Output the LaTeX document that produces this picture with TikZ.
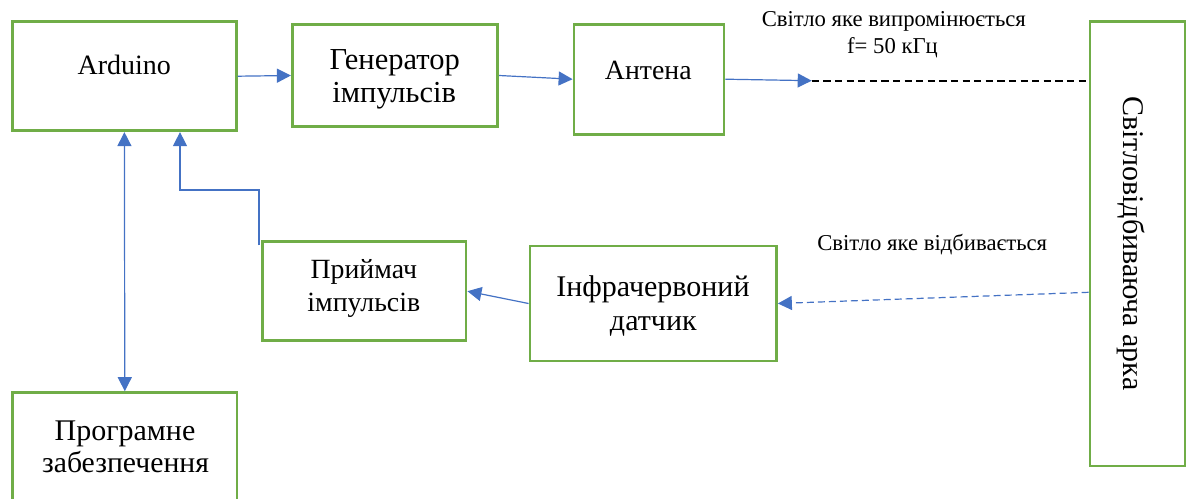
\documentclass[tikz,border=0pt]{standalone}
\usepackage{fontspec}
\setmainfont{Liberation Serif}
\usetikzlibrary{arrows.meta}
\definecolor{boxgreen}{HTML}{70AD47}
\definecolor{arrblue}{HTML}{4472C4}
\begin{document}
\begin{tikzpicture}[x=1pt,y=1pt,
  blk/.style={draw=boxgreen, line width=2.8pt, inner sep=0pt},
  txt/.style={anchor=base, inner sep=0pt, font=\fontsize{#1}{#1}\selectfont},
  arr/.style={draw=arrblue, line width=1.2pt, -{Triangle[length=14pt,width=14pt]}},
  darr/.style={draw=arrblue, line width=1.2pt, {Triangle[length=14pt,width=14pt]}-{Triangle[length=14pt,width=14pt]}}]
\useasboundingbox (0,0) rectangle (1188,-498);
\clip (0,0) rectangle (1188,-498);
% boxes
\node[blk, minimum width=223.5pt, minimum height=109pt] (ard) at (124.4,-76.2) {};
\node[blk, minimum width=205.4pt, minimum height=102.4pt] (gen) at (395,-75.5) {};
\node[blk, minimum width=150pt, minimum height=110pt] (ant) at (649,-79.2) {};
\node[blk, minimum width=95pt, minimum height=444.3pt] (arc) at (1137.5,-243.9) {};
\node[blk, minimum width=203.7pt, minimum height=99pt] (rec) at (364.2,-291.2) {};
\node[blk, minimum width=246.5pt, minimum height=115pt] (ir) at (653.2,-303.5) {};
\node[blk, minimum width=224.3pt, minimum height=160pt, anchor=north] (sw) at (124.8,-391.2) {};
% texts
\node[txt=28] (ardt) at (124.2,-74.3) {Arduino};
\node[txt=30.5] (gent1) at (394.7,-69.3) {Генератор};
\node[txt=30.5] (gent2) at (394.2,-102.7) {імпульсів};
\node[txt=27.8] (antt) at (648.3,-79.3) {Антена};
\node[txt=22.7] (em1) at (893.8,-26.7) {Світло яке випромінюється};
\node[txt=22.7] (em2) at (892.5,-53.3) {f= 50 кГц};
\node[rotate=-90, anchor=base, inner sep=0pt, font=\fontsize{30}{30}\selectfont] (arct) at (1123.3,-243.4) {Світловідбиваюча арка};
\node[txt=22.7] (refl) at (932.2,-250) {Світло яке відбивається};
\node[txt=27.8] (rect1) at (363.8,-278.3) {Приймач};
\node[txt=27.8] (rect2) at (363.8,-311.7) {імпульсів};
\node[txt=30] (irt1) at (653,-296.7) {Інфрачервоний};
\node[txt=30] (irt2) at (653.3,-330) {датчик};
\node[txt=30] (swt1) at (125,-440) {Програмне};
\node[txt=29.7] (swt2) at (125.5,-472.7) {забезпечення};
% connectors
\coordinate (tip) at (811.7,-80.7);
\coordinate (arcin) at (arc.west |- tip);
\coordinate (reflout) at ([yshift=-48.4pt]arc.west);
\coordinate (fb0) at ([xshift=-2pt,yshift=-5pt]rec.north west);
\coordinate (fb1) at (180,-190);
\draw[arr] (ard.east) -- (gen.west);
\draw[arr] (gen.east) -- (ant.west);
\draw[arr] (ant.east) -- (tip);
\draw[black, line width=1.7pt, dash pattern=on 7.3pt off 4.3pt] (tip) -- (arcin);
\draw[arr, dash pattern=on 7pt off 4pt] (reflout) -- (ir.east);
\draw[arr] (ir.west) -- (rec.east);
\draw[arr] (fb0) |- (fb1) -- (fb1 |- ard.south);
\draw[darr] (ard.south) -- (sw.north);
\end{tikzpicture}
\end{document}
